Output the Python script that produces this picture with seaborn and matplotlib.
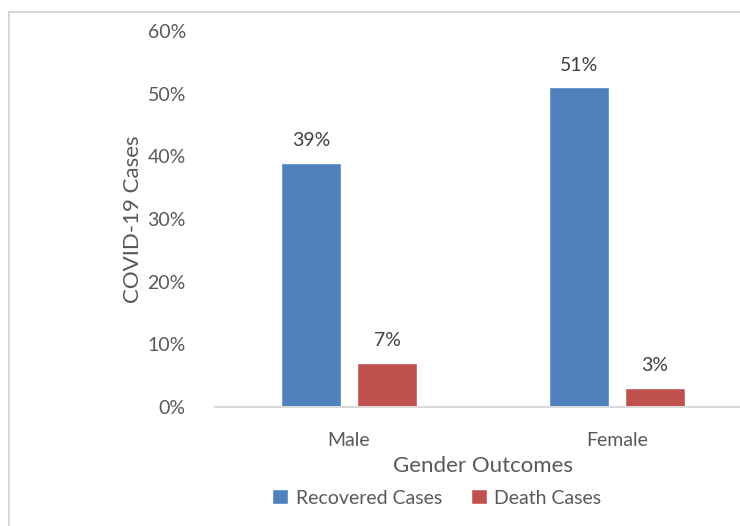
import matplotlib
matplotlib.use("Agg")
import matplotlib.pyplot as plt
import seaborn as sns
import pandas as pd
from matplotlib.patches import Rectangle

genders = ["Male", "Female"]
outcomes = ["Recovered Cases", "Death Cases"]
recovered = [39, 51]
deaths = [7, 3]
colors = ["#4F81BD", "#C0504D"]

df = pd.DataFrame({
    "gender": genders * 2,
    "outcome": [outcomes[0]] * 2 + [outcomes[1]] * 2,
    "value": recovered + deaths,
})

sns.set_style("white")
plt.rcParams["font.family"] = ["Lato", "DejaVu Sans"]

fig = plt.figure(figsize=(7.4, 5.26), dpi=100)
ax = fig.add_axes([215 / 740, 119 / 526, 536 / 740, 376 / 526])

sns.barplot(data=df, x="gender", y="value", hue="outcome", hue_order=outcomes,
            palette=colors, width=0.567, gap=0.2, ax=ax, legend=True,
            saturation=1)

for container in ax.containers:
    ax.bar_label(container, labels=[f"{v:.0f}%" for v in container.datavalues],
                 padding=10, fontsize=14, color="#404040")

ax.set_xlim(-0.5, 1.5)
ax.set_ylim(0, 60)
ax.set_yticks(range(0, 61, 10))
ax.set_yticklabels([f"{t}%" for t in range(0, 61, 10)])
ax.tick_params(axis="y", length=0, pad=21, labelsize=14, labelcolor="#595959")
ax.tick_params(axis="x", length=0, pad=18, labelsize=14, labelcolor="#595959")
for side in ["top", "right", "left"]:
    ax.spines[side].set_visible(False)
ax.spines["bottom"].set_color("#D9D9D9")
ax.spines["bottom"].set_linewidth(1.5)

ax.set_xlabel("Gender Outcomes", fontsize=16, color="#595959", labelpad=5)
ax.set_ylabel("COVID-19 Cases", fontsize=16, color="#595959", labelpad=3)

ax.legend(loc="center", bbox_to_anchor=(437 / 740, 28 / 526),
          bbox_transform=fig.transFigure, ncol=2, frameon=False,
          fontsize=14, labelcolor="#595959", handlelength=0.8,
          handleheight=0.8, handletextpad=0.4, columnspacing=1.5)

fig.patches.append(Rectangle((9 / 740, -0.05), 1.2, 1.05 - 12 / 526,
                             transform=fig.transFigure, fill=False,
                             edgecolor="#D9D9D9", linewidth=1.5))

fig.savefig("out.png", dpi=100)
